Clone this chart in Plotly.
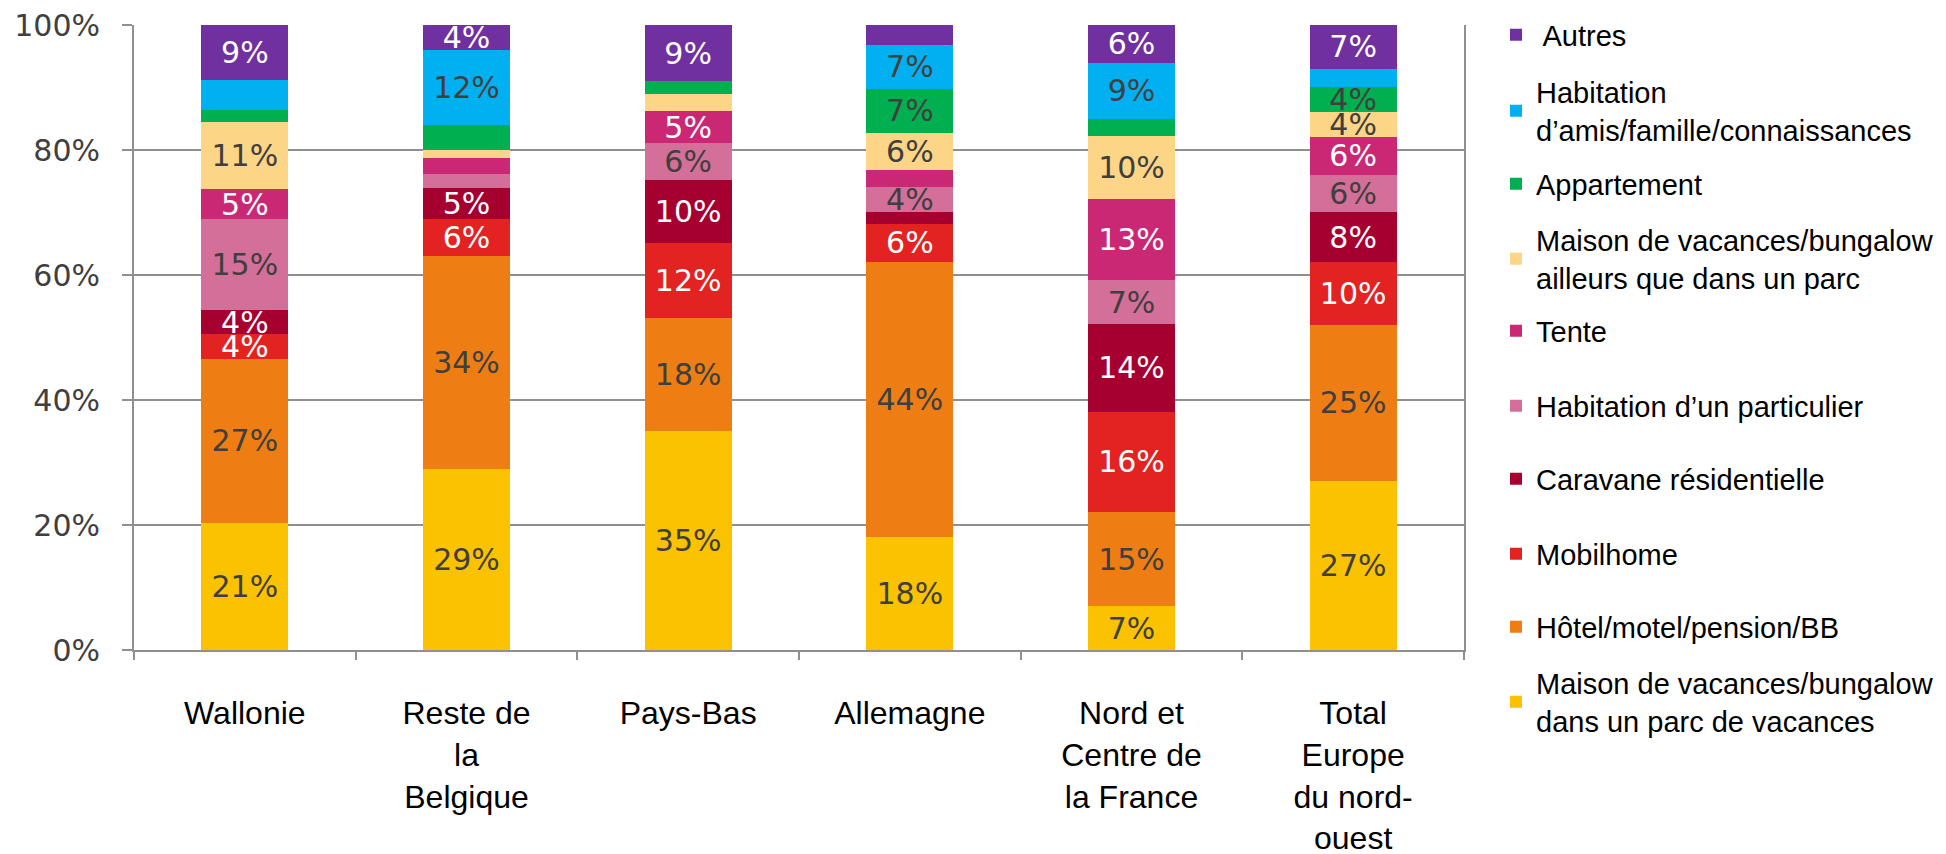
import plotly.graph_objects as go

categories = ["Wallonie", "Reste de<br>la<br>Belgique", "Pays-Bas", "Allemagne",
              "Nord et<br>Centre de<br>la France", "Total<br>Europe<br>du nord-<br>ouest"]

# Series (bottom to top), raw percentages per category
maison_parc = [21, 29, 35, 18, 7, 27]
hotel = [27, 34, 18, 44, 15, 25]
mobilhome = [4, 6, 12, 6, 16, 10]
caravane = [4, 5, 10, 1.9, 14, 8]
particulier = [15, 2.1, 6, 4, 7, 6]
tente = [5, 2.7, 5, 2.7, 13, 6]
maison_ailleurs = [11, 1.2, 2.8, 6, 10, 4]
appartement = [2, 4, 2, 7, 2.7, 4]
amis = [5, 12, 0, 7, 9, 2.9]
autres = [9, 4, 9, 3.2, 6, 7]

series_names = [
    "Maison de vacances/bungalow<br>dans un parc de vacances",
    "Hôtel/motel/pension/BB",
    "Mobilhome",
    "Caravane résidentielle",
    "Habitation d’un particulier",
    "Tente",
    "Maison de vacances/bungalow<br>ailleurs que dans un parc",
    "Appartement",
    "Habitation<br>d’amis/famille/connaissances",
    " Autres",
]
series_values = [maison_parc, hotel, mobilhome, caravane, particulier, tente,
                 maison_ailleurs, appartement, amis, autres]

# (series index, category index) of segments drawn without a label
hidden_labels = [(7, 0), (8, 0),
                 (4, 1), (5, 1), (6, 1), (7, 1),
                 (6, 2), (7, 2), (8, 2),
                 (3, 3), (5, 3), (9, 3),
                 (7, 4),
                 (8, 5)]

# styles
colors = ["#FAC200", "#EE7E14", "#E32322", "#A60030", "#D36F98",
          "#CA2874", "#FCD587", "#00AF50", "#00B0F0", "#7030A0"]
label_colors = ["#3F3F3F", "#3F3F3F", "#FFFFFF", "#FFFFFF", "#3F3F3F",
                "#FFFFFF", "#3F3F3F", "#3F3F3F", "#3F3F3F", "#FFFFFF"]
legend_y_px = [702, 627, 554, 479, 406, 331, 259, 184, 111, 35]

PLOT_L, PLOT_R, PLOT_T, PLOT_B = 134, 1464, 25, 650
W, H = 1946, 854
plot_h = PLOT_B - PLOT_T
plot_w = PLOT_R - PLOT_L
GRID = "#8F8F8F"

fig = go.Figure()
layout_legends = {}
for i, (name, vals) in enumerate(zip(series_names, series_values)):
    texts = []
    for j, v in enumerate(vals):
        if (i, j) in hidden_labels or v == 0:
            texts.append("")
        else:
            texts.append(f"{v:.0f}%")
    lname = "legend" if i == 0 else f"legend{i + 1}"
    fig.add_trace(go.Bar(
        x=categories, y=vals, name=name,
        marker=dict(color=colors[i], line=dict(width=0)),
        text=texts, texttemplate="%{text}",
        textposition="inside", insidetextanchor="middle",
        textangle=0, constraintext="none",
        textfont=dict(family="DejaVu Sans", size=30, color=label_colors[i]),
        legend=lname, hoverinfo="skip",
    ))
    layout_legends[lname] = dict(
        x=(1496 - PLOT_L) / plot_w, xanchor="left",
        y=(PLOT_B - legend_y_px[i]) / plot_h, yanchor="middle",
        font=dict(family="Liberation Sans, Arial", size=29, color="#000000"),
        bgcolor="rgba(0,0,0,0)", borderwidth=0,
    )

fig.update_layout(
    width=W, height=H,
    barmode="stack", barnorm="percent", bargap=0.608,
    paper_bgcolor="white", plot_bgcolor="white",
    margin=dict(l=PLOT_L, r=W - PLOT_R, t=PLOT_T, b=H - PLOT_B, pad=0,
                autoexpand=False),
    showlegend=True,
    **layout_legends,
)
fig.update_xaxes(
    automargin=False,
    showline=True, linecolor=GRID, linewidth=2,
    ticks="outside", tickson="boundaries", ticklen=8, tickcolor=GRID, tickwidth=2,
    showgrid=False,
    tickfont=dict(family="Liberation Sans, Arial", size=32, color="#000000"),
    ticklabelstandoff=34,
)
fig.update_yaxes(
    automargin=False,
    range=[0, 100], dtick=20, ticksuffix="%",
    showline=True, linecolor=GRID, linewidth=2, mirror=True,
    ticks="outside", ticklen=10, tickcolor=GRID, tickwidth=2,
    showgrid=True, gridcolor=GRID, gridwidth=2,
    zeroline=False,
    tickfont=dict(family="DejaVu Sans", size=30, color="#3F3F3F"),
    ticklabelstandoff=16,
)
fig.write_html(
    "out.html",
    config={"displayModeBar": False},
    post_script="document.body.style.margin='0';document.body.style.overflow='hidden';",
)
